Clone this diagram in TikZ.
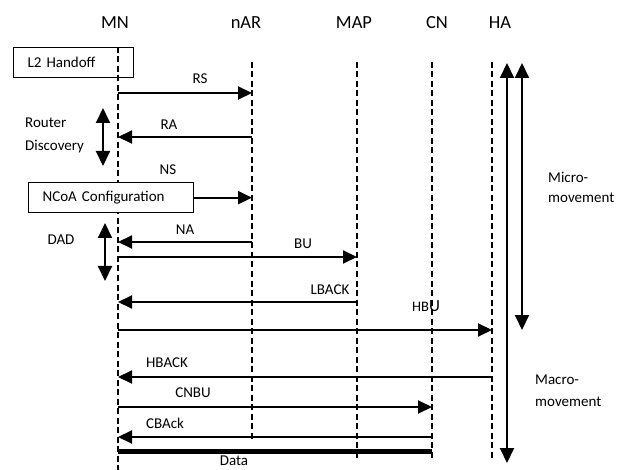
\documentclass[tikz,border=0pt]{standalone}
\usepackage{fontspec}
\setmainfont{Carlito}
\usetikzlibrary{arrows.meta}
\begin{document}
\begin{tikzpicture}[x=1pt,y=-1pt,
  life/.style={line width=1.3pt, dash pattern=on 6pt off 3.5pt},
  msg/.style={line width=2pt,-{Triangle[length=14pt,width=13pt]}},
  datamsg/.style={line width=5pt},
  dbl/.style={line width=2pt,{Triangle[length=15pt,width=14pt]}-{Triangle[length=15pt,width=14pt]}},
  lbl/.style={font=\fontsize{15}{17}\selectfont, inner sep=0pt},
  head/.style={font=\fontsize{18.5}{21}\selectfont, inner sep=0pt},
  boxnode/.style={draw, line width=1.3pt, inner ysep=0pt, minimum height=30pt, inner xsep=14pt, align=left, font=\fontsize{15}{17}\selectfont}
]
\useasboundingbox (0,0) rectangle (618,470);

% headers
\node[head] (hMN) at (115,22.5) {MN};
\node[head] (hnAR) at (246,22.5) {nAR};
\node[head] (hMAP) at (354,22.5) {MAP};
\node[head] (hCN) at (437,22.5) {CN};
\node[head] (hHA) at (500,22.5) {HA};

% lifelines
\coordinate (MNt) at (118,47);  \coordinate (MNb) at (118,470);
\coordinate (nARt) at (252,62); \coordinate (nARb) at (252,440);
\coordinate (MAPt) at (357,62); \coordinate (MAPb) at (357,460);
\coordinate (CNt) at (432,62);  \coordinate (CNb) at (432,460);
\coordinate (HAt) at (492,62);  \coordinate (HAb) at (492,460);
\draw[life] (MNt) -- (MNb);
\draw[life] (nARt) -- (nARb);
\draw[life] (MAPt) -- (MAPb);
\draw[life] (CNt) -- (CNb);
\draw[life] (HAt) -- (HAb);

% boxes
\node[boxnode, text width=92pt, anchor=north west] (l2) at (13,47) {L2 Handoff};
\node[boxnode, fill=white, text width=137pt, anchor=north west] (ncoa) at (28,182) {NCoA Configuration};

% message end points
\coordinate (MN-rs) at (118,93);   \coordinate (nAR-rs) at (252,93);
\coordinate (MN-ra) at (118,137);  \coordinate (nAR-ra) at (252,137);
\coordinate (MN-na) at (118,242);  \coordinate (nAR-na) at (252,242);
\coordinate (MN-bu) at (118,257);  \coordinate (MAP-bu) at (357,257);
\coordinate (MN-lb) at (118,302);  \coordinate (MAP-lb) at (357,302);
\coordinate (MN-hbu) at (118,330); \coordinate (HA-hbu) at (492,330);
\coordinate (MN-hb) at (118,377);  \coordinate (HA-hb) at (492,377);
\coordinate (MN-cnbu) at (118,407); \coordinate (CN-cnbu) at (432,407);
\coordinate (MN-cb) at (118,437);  \coordinate (CN-cb) at (432,437);
\coordinate (MN-data) at (118,451); \coordinate (CN-data) at (432,451);

% messages
\draw[msg] (MN-rs) -- (nAR-rs);
\node[lbl] (lrs) at (200,79) {RS};
\draw[msg] (nAR-ra) -- (MN-ra);
\node[lbl] (lra) at (169,125) {RA};
\draw[msg] (ncoa.east) -- (ncoa.east -| nARt);
\node[lbl] (lns) at (168,170) {NS};
\draw[msg] (nAR-na) -- (MN-na);
\node[lbl] (lna) at (185,230) {NA};
\draw[msg] (MN-bu) -- (MAP-bu);
\node[lbl] (lbu) at (303,244) {BU};
\draw[msg] (MAP-lb) -- (MN-lb);
\node[lbl] (llb) at (330,290) {LBACK};
\draw[msg] (MN-hbu) -- (HA-hbu);
\node[lbl, anchor=base] (lhbu) at (426,311) {{\fontsize{14.5}{16}\selectfont HB}{\fontsize{17}{19}\selectfont U}};
\draw[msg] (HA-hb) -- (MN-hb);
\node[lbl] (lhb) at (167,363) {HBACK};
\draw[msg] (MN-cnbu) -- (CN-cnbu);
\node[lbl] (lcnbu) at (193,393) {CNBU};
\draw[msg] (CN-cb) -- (MN-cb);
\node[lbl] (lcb) at (165,423) {CBAck};
\draw[datamsg] (MN-data) -- (CN-data);
\node[lbl] (ldata) at (234,461) {Data};

% side arrows
\coordinate (rdt) at (103,108); \coordinate (rdb) at (103,166);
\draw[dbl] (rdt) -- (rdb);
\node[lbl, font=\fontsize{15}{23}\selectfont, align=left, anchor=west] (lrd) at (25,135.5) {Router\\Discovery};
\coordinate (dadt) at (105,223); \coordinate (dadb) at (105,281);
\draw[dbl] (dadt) -- (dadb);
\node[lbl] (ldad) at (61,240) {DAD};

\coordinate (mit) at (522,63); \coordinate (mib) at (522,330);
\draw[dbl] (mit) -- (mib);
\node[lbl, font=\fontsize{15}{20}\selectfont, align=left, anchor=west] (lmi) at (548,187) {Micro-\\movement};
\coordinate (mat) at (507,63); \coordinate (mab) at (507,463);
\draw[dbl] (mat) -- (mab);
\node[lbl, font=\fontsize{15}{22}\selectfont, align=left, anchor=west] (lma) at (535,391) {Macro-\\movement};
\end{tikzpicture}
\end{document}
